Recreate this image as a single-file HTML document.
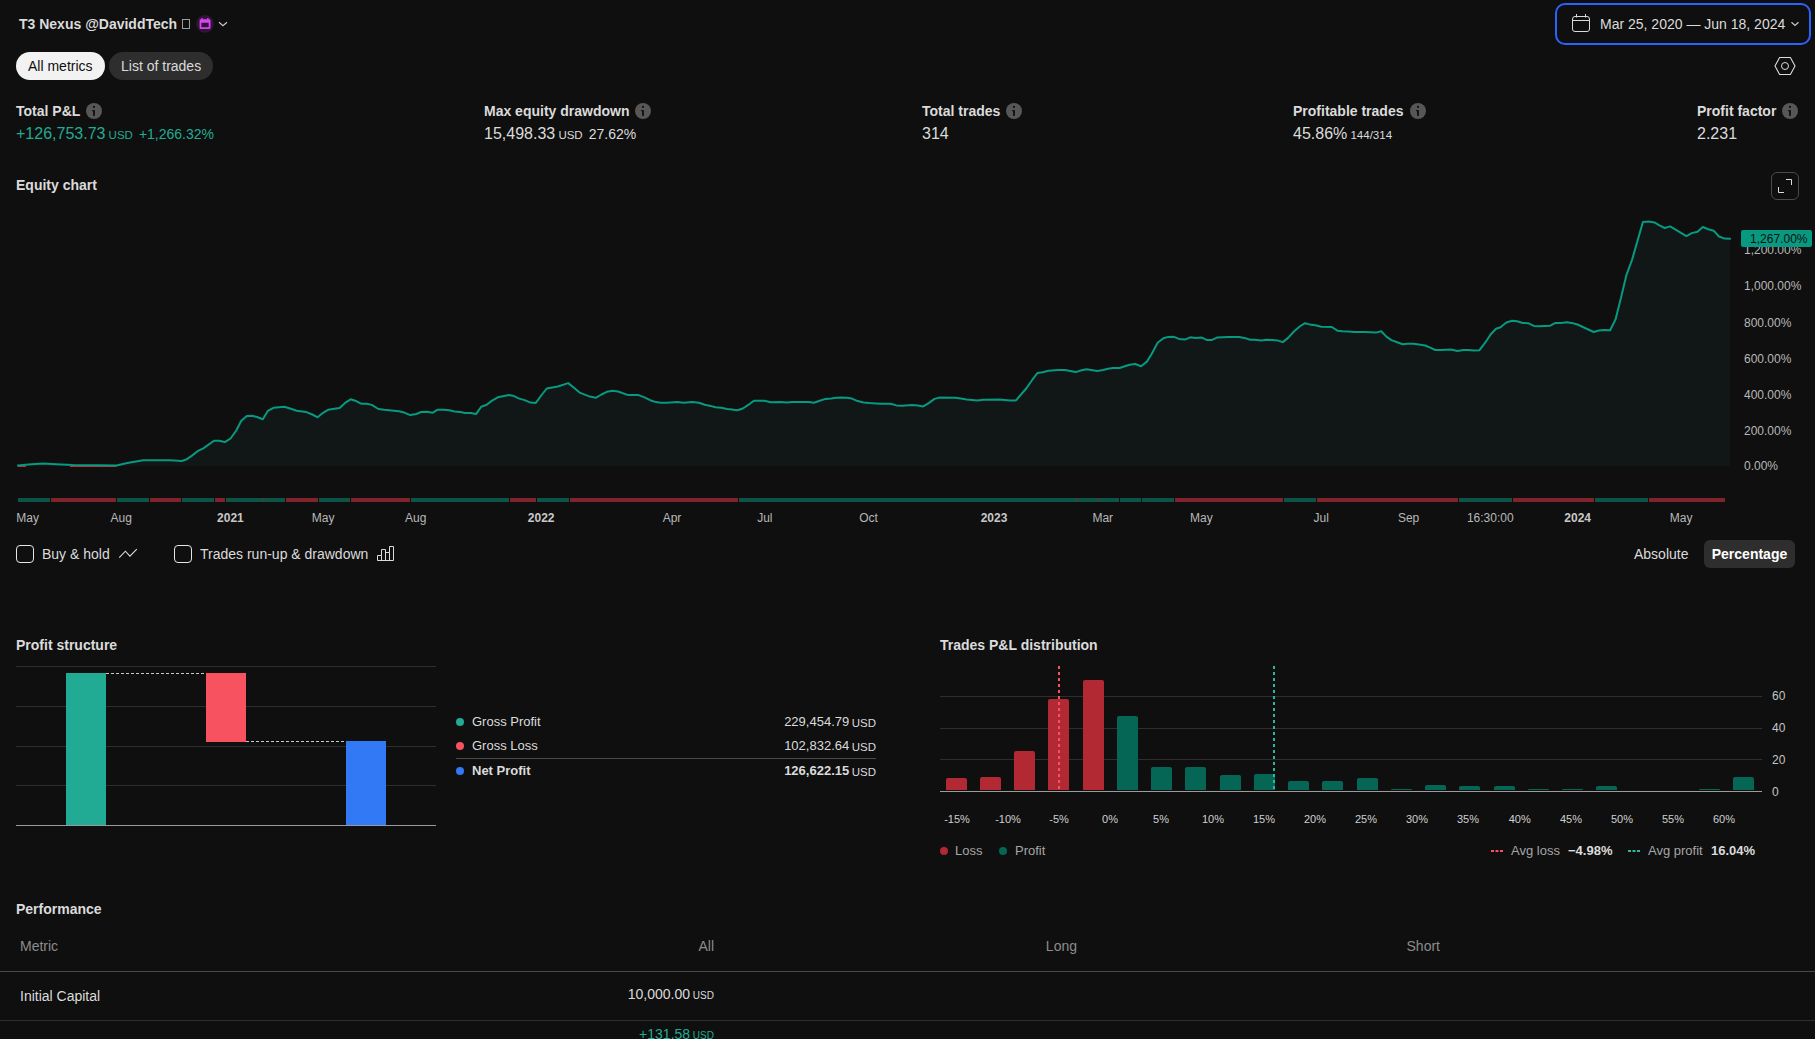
<!DOCTYPE html>
<html lang="en"><head><meta charset="utf-8"><title>Strategy report</title>
<style>
html,body{margin:0;padding:0;background:#0f0f0f;}
body{width:1815px;height:1039px;overflow:hidden;position:relative;font-family:"Liberation Sans",sans-serif;color:#dbdbdb;font-size:14px;}
.abs{position:absolute;white-space:nowrap;}
.b{font-weight:bold;}
.title{left:19px;top:16px;font-size:14px;font-weight:bold;line-height:16px;color:#dbdbdb;}
.pill{height:28px;line-height:28px;border-radius:14px;font-size:14px;top:52px;padding:0 12px;box-sizing:border-box;}
.mlabel{font-size:14px;font-weight:bold;line-height:16px;top:103px;color:#dbdbdb;}
.mval{font-size:16px;line-height:20px;top:124px;color:#dbdbdb;}
.mval small{font-size:11.5px;}
.mval .p{margin-left:6px;}
.mval .p{font-size:14px;}
.info{width:16px;height:16px;position:absolute;top:0px;}
.g{color:#22ab94 !important;}
.sec{font-size:14px;font-weight:bold;line-height:16px;color:#dbdbdb;}
svg text{font-family:"Liberation Sans",sans-serif;}
.ax{font-size:12px;fill:#b8b8b8;}
.ax.b{font-weight:bold;fill:#c8c8c8;}
.ax2{font-size:12px;fill:#c4c4c4;}
.ax3{font-size:11px;fill:#cfcfcf;}
.cb{width:16px;height:16px;border:1px solid #e6e6e6;border-radius:4px;box-sizing:border-box;top:545px;width:18px;height:18px;}
.lg{font-size:13px;line-height:16px;color:#dbdbdb;}
.lg small{font-size:11.5px;margin-left:2.5px;position:relative;top:1px;}
.dot{width:8px;height:8px;border-radius:50%;}
.th{font-size:14px;color:#8c8c8c;line-height:16px;top:938px;}
.td{font-size:14px;color:#dbdbdb;line-height:16px;}
.td small{font-size:10px;}
</style></head><body>

<div class="abs title">T3 Nexus @DaviddTech</div>
<div class="abs" style="left:182px;top:19px;width:6px;height:8px;border:1px solid #9c9c9c;"></div>
<svg class="abs" style="left:195px;top:14px" width="20" height="20" viewBox="0 0 20 20"><circle cx="10" cy="9.900" r="8.900" fill="#2d1732"/><path d="M5.900 5.200H14.200Q15.500 5.200 15.500 6.500V13.700Q15.500 15 14.200 15H5.900Q4.600 15 4.600 13.700V6.500Q4.600 5.200 5.900 5.200Z M6.400 8.800V13.200H13.700V8.800Z" fill="#e040fb" fill-rule="evenodd"/><rect x="6.400" y="4.100" width="1.500" height="1.600" fill="#e040fb"/><rect x="12.100" y="4.100" width="1.500" height="1.600" fill="#e040fb"/></svg>
<svg class="abs" style="left:218px;top:19px" width="10" height="10" viewBox="0 0 10 10"><path d="M1 3.200 L5 6.700 L9 3.200" stroke="#c8c8c8" stroke-width="1.2" fill="none"/></svg>

<div class="abs" style="left:1555px;top:3px;width:256px;height:42px;box-sizing:border-box;border:2px solid #2962ff;border-radius:10px;"></div>
<svg class="abs" style="left:1571px;top:13px" width="20" height="20" viewBox="0 0 20 20"><rect x="1.500" y="3.500" width="17" height="15" rx="2.500" fill="none" stroke="#dbdbdb" stroke-width="1"/><path d="M1.500 7.500H18.500 M5.500 1V4.500 M14.500 1V4.500" stroke="#dbdbdb" stroke-width="1" fill="none"/></svg>
<div class="abs" style="left:1600px;top:16px;font-size:14px;line-height:16px;color:#dbdbdb;">Mar 25, 2020 — Jun 18, 2024</div>
<svg class="abs" style="left:1790px;top:19px" width="10" height="10" viewBox="0 0 10 10"><path d="M1.5 3.2 L5 6.4 L8.5 3.2" stroke="#c8c8c8" stroke-width="1.2" fill="none"/></svg>

<div class="abs pill" style="left:16px;width:89px;background:#f2f2f2;color:#0f0f0f;">All metrics</div>
<div class="abs pill" style="left:109px;width:104px;background:#2e2e2e;color:#dbdbdb;">List of trades</div>
<svg class="abs" style="left:1774px;top:55px" width="22" height="22" viewBox="0 0 22 22"><path d="M5.600 2.500H16.400L21 11L16.400 19.500H5.600L1 11Z" fill="none" stroke="#dbdbdb" stroke-width="1.100"/><circle cx="11" cy="11" r="3.5" fill="none" stroke="#dbdbdb" stroke-width="1"/></svg>

<div class="abs mlabel" style="left:16px;">Total P&amp;L</div><div class="abs" style="left:86px;top:103px"><svg class="info" viewBox="0 0 16 16"><circle cx="8" cy="8" r="8" fill="#575757"/><rect x="7.100" y="7.100" width="1.800" height="5.800" fill="#0f0f0f"/><path d="M5.900 7.100H7.200V8.300H6.300Z" fill="#0f0f0f"/><circle cx="8" cy="3.900" r="1.050" fill="#0f0f0f"/></svg></div>
<div class="abs mval g" style="left:16px;">+126,753.73<small> USD</small><span class="p">+1,266.32%</span></div>
<div class="abs mlabel" style="left:484px;">Max equity drawdown</div><div class="abs" style="left:635px;top:103px"><svg class="info" viewBox="0 0 16 16"><circle cx="8" cy="8" r="8" fill="#575757"/><rect x="7.100" y="7.100" width="1.800" height="5.800" fill="#0f0f0f"/><path d="M5.900 7.100H7.200V8.300H6.300Z" fill="#0f0f0f"/><circle cx="8" cy="3.900" r="1.050" fill="#0f0f0f"/></svg></div>
<div class="abs mval" style="left:484px;">15,498.33<small> USD</small><span class="p">27.62%</span></div>
<div class="abs mlabel" style="left:922px;">Total trades</div><div class="abs" style="left:1006px;top:103px"><svg class="info" viewBox="0 0 16 16"><circle cx="8" cy="8" r="8" fill="#575757"/><rect x="7.100" y="7.100" width="1.800" height="5.800" fill="#0f0f0f"/><path d="M5.900 7.100H7.200V8.300H6.300Z" fill="#0f0f0f"/><circle cx="8" cy="3.900" r="1.050" fill="#0f0f0f"/></svg></div>
<div class="abs mval" style="left:922px;">314</div>
<div class="abs mlabel" style="left:1293px;">Profitable trades</div><div class="abs" style="left:1410px;top:103px"><svg class="info" viewBox="0 0 16 16"><circle cx="8" cy="8" r="8" fill="#575757"/><rect x="7.100" y="7.100" width="1.800" height="5.800" fill="#0f0f0f"/><path d="M5.900 7.100H7.200V8.300H6.300Z" fill="#0f0f0f"/><circle cx="8" cy="3.900" r="1.050" fill="#0f0f0f"/></svg></div>
<div class="abs mval" style="left:1293px;">45.86%<small> 144/314</small></div>
<div class="abs mlabel" style="left:1697px;">Profit factor</div><div class="abs" style="left:1782px;top:103px"><svg class="info" viewBox="0 0 16 16"><circle cx="8" cy="8" r="8" fill="#575757"/><rect x="7.100" y="7.100" width="1.800" height="5.800" fill="#0f0f0f"/><path d="M5.900 7.100H7.200V8.300H6.300Z" fill="#0f0f0f"/><circle cx="8" cy="3.900" r="1.050" fill="#0f0f0f"/></svg></div>
<div class="abs mval" style="left:1697px;">2.231</div>

<div class="abs sec" style="left:16px;top:177px;">Equity chart</div>
<div class="abs" style="left:1771px;top:172px;width:28px;height:28px;box-sizing:border-box;border:1px solid #4a4a4a;border-radius:6px;"></div>
<svg class="abs" style="left:1771px;top:172px" width="28" height="28" viewBox="0 0 28 28"><path d="M15 7.500H20.500V13 M7.500 15V20.500H13" stroke="#dbdbdb" stroke-width="1" fill="none"/></svg>

<svg class="abs" style="left:0;top:0" width="1815" height="540" viewBox="0 0 1815 540">
<path d="M17.9 465.5 L28.1 464.5 L43.0 463.6 L56.0 464.3 L72.7 465.0 L99.0 465.3 L116.5 465.5 L127.3 463.1 L143.0 460.2 L170.0 460.3 L181.8 461.0 L186.8 459.2 L191.7 455.9 L197.5 451.2 L203.3 448.4 L214.0 440.7 L219.0 440.8 L224.8 442.1 L230.6 438.5 L236.4 430.2 L241.3 420.8 L246.8 415.9 L252.0 415.7 L257.0 417.0 L262.8 419.2 L267.8 410.9 L273.5 407.8 L284.3 406.8 L290.9 408.8 L296.6 410.7 L306.5 412.1 L312.3 414.5 L317.6 417.3 L323.0 412.8 L328.0 409.8 L339.6 407.9 L346.2 402.1 L350.7 399.3 L355.3 400.7 L361.0 403.7 L366.9 403.7 L371.8 404.9 L378.4 409.0 L384.2 409.8 L399.0 411.3 L404.9 412.8 L410.3 415.1 L416.4 414.0 L421.0 412.0 L427.2 411.7 L432.5 412.8 L437.6 409.7 L443.7 409.7 L449.5 410.3 L454.5 411.5 L460.2 412.0 L465.2 413.0 L471.0 413.1 L476.0 414.1 L481.2 406.7 L486.7 404.7 L491.7 400.9 L497.8 397.3 L509.0 395.1 L514.0 396.1 L519.3 398.6 L524.7 400.1 L530.5 402.6 L535.8 402.9 L541.2 395.5 L546.7 388.5 L557.8 386.5 L568.2 383.1 L574.3 388.0 L579.6 392.6 L589.9 396.6 L595.7 397.8 L601.5 394.5 L606.8 391.8 L612.6 390.8 L618.0 391.5 L628.3 395.1 L638.7 395.1 L644.5 397.4 L650.2 400.2 L656.0 402.1 L661.0 402.7 L666.8 402.7 L677.5 401.9 L683.3 402.7 L692.4 401.9 L699.0 402.7 L704.8 404.7 L710.6 405.9 L715.5 407.2 L721.3 407.7 L727.1 409.0 L732.0 409.5 L737.4 410.3 L742.8 408.5 L748.6 404.7 L753.9 400.7 L764.3 400.7 L770.9 402.2 L780.8 402.1 L786.6 402.4 L792.4 401.9 L798.2 402.1 L808.9 402.1 L813.9 402.7 L819.7 400.7 L825.5 398.9 L831.2 398.4 L836.2 397.8 L841.2 397.4 L846.9 397.8 L851.9 398.6 L857.7 401.1 L863.5 402.4 L869.3 403.1 L879.9 403.7 L890.7 403.7 L896.4 405.4 L902.2 405.7 L912.1 405.0 L917.9 405.4 L923.2 406.4 L928.7 403.1 L934.5 398.9 L939.4 397.6 L955.1 397.8 L960.9 398.6 L966.7 399.4 L977.4 400.6 L983.2 399.8 L998.9 399.4 L1010.5 400.4 L1016.0 400.4 L1026.2 388.5 L1032.0 380.2 L1037.4 373.0 L1042.7 372.3 L1048.5 370.8 L1058.4 370.0 L1065.0 370.0 L1075.8 372.1 L1081.6 370.3 L1086.5 369.2 L1097.3 371.0 L1103.1 370.0 L1108.0 368.7 L1113.0 368.0 L1119.6 368.0 L1129.5 364.7 L1135.3 364.0 L1141.1 366.2 L1146.9 361.6 L1151.8 353.8 L1157.6 342.7 L1163.4 338.3 L1168.3 336.9 L1174.0 336.8 L1179.0 338.9 L1184.8 339.6 L1190.2 337.3 L1195.5 338.1 L1201.3 337.4 L1206.6 339.9 L1212.1 339.9 L1217.0 337.6 L1227.8 336.9 L1239.3 336.9 L1244.3 337.9 L1250.1 339.8 L1255.0 339.8 L1261.2 340.6 L1266.6 339.8 L1272.4 339.9 L1277.4 340.4 L1282.8 342.1 L1288.1 337.9 L1293.9 331.5 L1299.7 326.5 L1305.0 323.2 L1309.6 324.4 L1315.4 325.2 L1321.2 326.7 L1331.9 327.0 L1337.7 330.8 L1342.6 331.2 L1348.4 331.5 L1354.2 332.1 L1365.0 332.1 L1375.7 332.6 L1381.2 331.3 L1386.4 336.6 L1391.4 340.1 L1397.2 342.2 L1402.6 344.2 L1407.9 343.7 L1413.7 343.7 L1418.7 344.5 L1425.3 345.5 L1430.2 347.7 L1435.2 350.0 L1441.0 350.0 L1450.9 349.5 L1457.5 351.0 L1463.2 350.0 L1468.2 349.9 L1474.0 350.5 L1479.5 350.2 L1484.8 343.2 L1490.6 334.5 L1496.0 328.7 L1500.5 327.2 L1506.3 322.5 L1512.1 320.7 L1517.1 321.2 L1522.8 323.0 L1528.1 323.2 L1533.9 325.9 L1539.4 326.2 L1550.2 325.7 L1555.5 322.9 L1560.9 322.9 L1566.7 322.2 L1571.7 322.9 L1577.5 324.5 L1593.7 332.0 L1599.0 330.5 L1604.0 330.0 L1610.1 330.3 L1615.6 319.2 L1621.0 297.7 L1626.3 275.4 L1632.1 259.6 L1642.9 222.1 L1648.7 221.6 L1654.5 222.4 L1659.4 225.4 L1664.7 228.0 L1670.2 226.4 L1686.4 236.1 L1691.7 233.1 L1697.5 231.7 L1702.8 227.0 L1708.3 229.2 L1713.7 230.7 L1719.0 236.5 L1724.8 238.6 L1730.1 238.8 L1730.1 466 L17.9 466 Z" fill="#101716"/>
<path d="M17.900 466.300 L26 466.300 M70 466.300 L116.500 466.300" stroke="#f23645" stroke-width="1" fill="none"/>
<path d="M17.9 465.5 L28.1 464.5 L43.0 463.6 L56.0 464.3 L72.7 465.0 L99.0 465.3 L116.5 465.5 L127.3 463.1 L143.0 460.2 L170.0 460.3 L181.8 461.0 L186.8 459.2 L191.7 455.9 L197.5 451.2 L203.3 448.4 L214.0 440.7 L219.0 440.8 L224.8 442.1 L230.6 438.5 L236.4 430.2 L241.3 420.8 L246.8 415.9 L252.0 415.7 L257.0 417.0 L262.8 419.2 L267.8 410.9 L273.5 407.8 L284.3 406.8 L290.9 408.8 L296.6 410.7 L306.5 412.1 L312.3 414.5 L317.6 417.3 L323.0 412.8 L328.0 409.8 L339.6 407.9 L346.2 402.1 L350.7 399.3 L355.3 400.7 L361.0 403.7 L366.9 403.7 L371.8 404.9 L378.4 409.0 L384.2 409.8 L399.0 411.3 L404.9 412.8 L410.3 415.1 L416.4 414.0 L421.0 412.0 L427.2 411.7 L432.5 412.8 L437.6 409.7 L443.7 409.7 L449.5 410.3 L454.5 411.5 L460.2 412.0 L465.2 413.0 L471.0 413.1 L476.0 414.1 L481.2 406.7 L486.7 404.7 L491.7 400.9 L497.8 397.3 L509.0 395.1 L514.0 396.1 L519.3 398.6 L524.7 400.1 L530.5 402.6 L535.8 402.9 L541.2 395.5 L546.7 388.5 L557.8 386.5 L568.2 383.1 L574.3 388.0 L579.6 392.6 L589.9 396.6 L595.7 397.8 L601.5 394.5 L606.8 391.8 L612.6 390.8 L618.0 391.5 L628.3 395.1 L638.7 395.1 L644.5 397.4 L650.2 400.2 L656.0 402.1 L661.0 402.7 L666.8 402.7 L677.5 401.9 L683.3 402.7 L692.4 401.9 L699.0 402.7 L704.8 404.7 L710.6 405.9 L715.5 407.2 L721.3 407.7 L727.1 409.0 L732.0 409.5 L737.4 410.3 L742.8 408.5 L748.6 404.7 L753.9 400.7 L764.3 400.7 L770.9 402.2 L780.8 402.1 L786.6 402.4 L792.4 401.9 L798.2 402.1 L808.9 402.1 L813.9 402.7 L819.7 400.7 L825.5 398.9 L831.2 398.4 L836.2 397.8 L841.2 397.4 L846.9 397.8 L851.9 398.6 L857.7 401.1 L863.5 402.4 L869.3 403.1 L879.9 403.7 L890.7 403.7 L896.4 405.4 L902.2 405.7 L912.1 405.0 L917.9 405.4 L923.2 406.4 L928.7 403.1 L934.5 398.9 L939.4 397.6 L955.1 397.8 L960.9 398.6 L966.7 399.4 L977.4 400.6 L983.2 399.8 L998.9 399.4 L1010.5 400.4 L1016.0 400.4 L1026.2 388.5 L1032.0 380.2 L1037.4 373.0 L1042.7 372.3 L1048.5 370.8 L1058.4 370.0 L1065.0 370.0 L1075.8 372.1 L1081.6 370.3 L1086.5 369.2 L1097.3 371.0 L1103.1 370.0 L1108.0 368.7 L1113.0 368.0 L1119.6 368.0 L1129.5 364.7 L1135.3 364.0 L1141.1 366.2 L1146.9 361.6 L1151.8 353.8 L1157.6 342.7 L1163.4 338.3 L1168.3 336.9 L1174.0 336.8 L1179.0 338.9 L1184.8 339.6 L1190.2 337.3 L1195.5 338.1 L1201.3 337.4 L1206.6 339.9 L1212.1 339.9 L1217.0 337.6 L1227.8 336.9 L1239.3 336.9 L1244.3 337.9 L1250.1 339.8 L1255.0 339.8 L1261.2 340.6 L1266.6 339.8 L1272.4 339.9 L1277.4 340.4 L1282.8 342.1 L1288.1 337.9 L1293.9 331.5 L1299.7 326.5 L1305.0 323.2 L1309.6 324.4 L1315.4 325.2 L1321.2 326.7 L1331.9 327.0 L1337.7 330.8 L1342.6 331.2 L1348.4 331.5 L1354.2 332.1 L1365.0 332.1 L1375.7 332.6 L1381.2 331.3 L1386.4 336.6 L1391.4 340.1 L1397.2 342.2 L1402.6 344.2 L1407.9 343.7 L1413.7 343.7 L1418.7 344.5 L1425.3 345.5 L1430.2 347.7 L1435.2 350.0 L1441.0 350.0 L1450.9 349.5 L1457.5 351.0 L1463.2 350.0 L1468.2 349.9 L1474.0 350.5 L1479.5 350.2 L1484.8 343.2 L1490.6 334.5 L1496.0 328.7 L1500.5 327.2 L1506.3 322.5 L1512.1 320.7 L1517.1 321.2 L1522.8 323.0 L1528.1 323.2 L1533.9 325.9 L1539.4 326.2 L1550.2 325.7 L1555.5 322.9 L1560.9 322.9 L1566.7 322.2 L1571.7 322.9 L1577.5 324.5 L1593.7 332.0 L1599.0 330.5 L1604.0 330.0 L1610.1 330.3 L1615.6 319.2 L1621.0 297.7 L1626.3 275.4 L1632.1 259.6 L1642.9 222.1 L1648.7 221.6 L1654.5 222.4 L1659.4 225.4 L1664.7 228.0 L1670.2 226.4 L1686.4 236.1 L1691.7 233.1 L1697.5 231.7 L1702.8 227.0 L1708.3 229.2 L1713.7 230.7 L1719.0 236.5 L1724.8 238.6 L1730.1 238.8" stroke="#089981" stroke-width="2" fill="none" stroke-linejoin="round" stroke-linecap="round"/>
<rect x="18" y="498" width="32" height="4" fill="#0c5448"/><rect x="51" y="498" width="65" height="4" fill="#81232a"/><rect x="117" y="498" width="32" height="4" fill="#0c5448"/><rect x="150" y="498" width="31" height="4" fill="#81232a"/><rect x="182" y="498" width="32" height="4" fill="#0c5448"/><rect x="215" y="498" width="10" height="4" fill="#81232a"/><rect x="226" y="498" width="37" height="4" fill="#0c5448"/><rect x="263" y="498" width="1" height="4" fill="#81232a"/><rect x="264" y="498" width="21" height="4" fill="#0c5448"/><rect x="286" y="498" width="32" height="4" fill="#81232a"/><rect x="319" y="498" width="31" height="4" fill="#0c5448"/><rect x="351" y="498" width="59" height="4" fill="#81232a"/><rect x="411" y="498" width="98" height="4" fill="#0c5448"/><rect x="510" y="498" width="26" height="4" fill="#81232a"/><rect x="537" y="498" width="32" height="4" fill="#0c5448"/><rect x="570" y="498" width="168" height="4" fill="#81232a"/><rect x="739" y="498" width="337" height="4" fill="#0c5448"/><rect x="1076" y="498" width="1" height="4" fill="#81232a"/><rect x="1077" y="498" width="21" height="4" fill="#0c5448"/><rect x="1098" y="498" width="1" height="4" fill="#81232a"/><rect x="1099" y="498" width="20" height="4" fill="#0c5448"/><rect x="1120" y="498" width="21" height="4" fill="#0c5448"/><rect x="1142" y="498" width="32" height="4" fill="#0c5448"/><rect x="1175" y="498" width="108" height="4" fill="#81232a"/><rect x="1284" y="498" width="32" height="4" fill="#0c5448"/><rect x="1317" y="498" width="141" height="4" fill="#81232a"/><rect x="1459" y="498" width="53" height="4" fill="#0c5448"/><rect x="1513" y="498" width="81" height="4" fill="#81232a"/><rect x="1595" y="498" width="53" height="4" fill="#0c5448"/><rect x="1649" y="498" width="76" height="4" fill="#81232a"/>
<text x="27.7" y="522" text-anchor="middle" class="ax">May</text><text x="121.2" y="522" text-anchor="middle" class="ax">Aug</text><text x="230.4" y="522" text-anchor="middle" class="ax b">2021</text><text x="323.2" y="522" text-anchor="middle" class="ax">May</text><text x="415.7" y="522" text-anchor="middle" class="ax">Aug</text><text x="541.2" y="522" text-anchor="middle" class="ax b">2022</text><text x="672" y="522" text-anchor="middle" class="ax">Apr</text><text x="764.8" y="522" text-anchor="middle" class="ax">Jul</text><text x="868.6" y="522" text-anchor="middle" class="ax">Oct</text><text x="994" y="522" text-anchor="middle" class="ax b">2023</text><text x="1102.8" y="522" text-anchor="middle" class="ax">Mar</text><text x="1201.4" y="522" text-anchor="middle" class="ax">May</text><text x="1321.2" y="522" text-anchor="middle" class="ax">Jul</text><text x="1408.6" y="522" text-anchor="middle" class="ax">Sep</text><text x="1490.3" y="522" text-anchor="middle" class="ax">16:30:00</text><text x="1577.7" y="522" text-anchor="middle" class="ax b">2024</text><text x="1681.2" y="522" text-anchor="middle" class="ax">May</text>
<text x="1744" y="254" class="ax">1,200.00%</text><text x="1744" y="290" class="ax">1,000.00%</text><text x="1744" y="327" class="ax">800.00%</text><text x="1744" y="363" class="ax">600.00%</text><text x="1744" y="399" class="ax">400.00%</text><text x="1744" y="435" class="ax">200.00%</text><text x="1744" y="470" class="ax">0.00%</text>
<rect x="1741" y="230" width="71" height="17" rx="2" fill="#089981"/>
<text x="1807.500" y="242.500" text-anchor="end" style="font-size:12px;fill:#0f0f0f;">1,267.00%</text>
</svg>

<div class="abs cb" style="left:16px;"></div>
<div class="abs" style="left:42px;top:546px;font-size:14px;line-height:16px;">Buy &amp; hold</div>
<svg class="abs" style="left:118px;top:545px" width="20" height="18" viewBox="0 0 20 18"><path d="M1.200 12.700 L7.400 6.200 L11.900 11.200 L18.800 4.200" stroke="#dbdbdb" stroke-width="1.1" fill="none"/></svg>
<div class="abs cb" style="left:174px;"></div>
<div class="abs" style="left:200px;top:546px;font-size:14px;line-height:16px;">Trades run-up &amp; drawdown</div>
<svg class="abs" style="left:376px;top:545px" width="20" height="18" viewBox="0 0 20 18"><path d="M1.500 15.500V10.500H5.500V15.500 M5.500 10.500V4.500H9.500V15.500 M9.500 7.500H13.500V15.500 M13.500 7.500V1.500H17.500V15.500H1.500" stroke="#dbdbdb" stroke-width="1" fill="none"/></svg>
<div class="abs" style="left:1634px;top:546px;font-size:14px;line-height:16px;">Absolute</div>
<div class="abs b" style="left:1704px;top:540px;width:91px;height:28px;line-height:28px;border-radius:6px;background:#2e2e2e;color:#fff;text-align:center;font-size:14px;">Percentage</div>

<div class="abs sec" style="left:16px;top:637px;">Profit structure</div>
<svg class="abs" style="left:0;top:600px" width="900" height="280" viewBox="0 600 900 280">
<path d="M16 666.500H436 M16 706.500H436 M16 746.500H436 M16 785.500H436" stroke="#2e2e2e" stroke-width="1"/>
<rect x="66" y="673" width="40" height="152" fill="#22ab94"/>
<rect x="206" y="673" width="40" height="69" fill="#f7525f"/>
<rect x="346" y="741" width="40" height="84" fill="#3179f5"/>
<path d="M106 673.500H206 M246 741.500H346" stroke="#c8c8c8" stroke-width="1" stroke-dasharray="3 2"/>
<path d="M16 825.500H436" stroke="#9a9a9a" stroke-width="1"/>
<path d="M456 758.500H876" stroke="#4a4a4a" stroke-width="1"/>
</svg>
<div class="abs dot" style="left:456px;top:718px;background:#22ab94"></div>
<div class="abs lg" style="left:472px;top:714px;">Gross Profit</div>
<div class="abs lg" style="right:939px;top:714px;">229,454.79<small>USD</small></div>
<div class="abs dot" style="left:456px;top:742px;background:#f7525f"></div>
<div class="abs lg" style="left:472px;top:738px;">Gross Loss</div>
<div class="abs lg" style="right:939px;top:738px;">102,832.64<small>USD</small></div>
<div class="abs dot" style="left:456px;top:767px;background:#3179f5"></div>
<div class="abs lg b" style="left:472px;top:763px;">Net Profit</div>
<div class="abs lg" style="right:939px;top:763px;"><span class="b">126,622.15</span><small>USD</small></div>

<div class="abs sec" style="left:940px;top:637px;">Trades P&amp;L distribution</div>
<svg class="abs" style="left:900px;top:600px" width="915" height="280" viewBox="900 600 915 280">
<path d="M940 696.500H1762 M940 728.500H1762 M940 759.500H1762" stroke="#2e2e2e" stroke-width="1"/>
<path d="M946 790 V780 Q946 778 948 778 H965 Q967 778 967 780 V790 Z" fill="#b22833"/><path d="M980 790 V779 Q980 777 982 777 H999 Q1001 777 1001 779 V790 Z" fill="#b22833"/><path d="M1014 790 V753 Q1014 751 1016 751 H1033 Q1035 751 1035 753 V790 Z" fill="#b22833"/><path d="M1048 790 V701 Q1048 699 1050 699 H1067 Q1069 699 1069 701 V790 Z" fill="#b22833"/><path d="M1083 790 V682 Q1083 680 1085 680 H1102 Q1104 680 1104 682 V790 Z" fill="#b22833"/><path d="M1117 790 V718 Q1117 716 1119 716 H1136 Q1138 716 1138 718 V790 Z" fill="#056656"/><path d="M1151 790 V769 Q1151 767 1153 767 H1170 Q1172 767 1172 769 V790 Z" fill="#056656"/><path d="M1185 790 V769 Q1185 767 1187 767 H1204 Q1206 767 1206 769 V790 Z" fill="#056656"/><path d="M1220 790 V777 Q1220 775 1222 775 H1239 Q1241 775 1241 777 V790 Z" fill="#056656"/><path d="M1254 790 V776 Q1254 774 1256 774 H1273 Q1275 774 1275 776 V790 Z" fill="#056656"/><path d="M1288 790 V783 Q1288 781 1290 781 H1307 Q1309 781 1309 783 V790 Z" fill="#056656"/><path d="M1322 790 V783 Q1322 781 1324 781 H1341 Q1343 781 1343 783 V790 Z" fill="#056656"/><path d="M1357 790 V780 Q1357 778 1359 778 H1376 Q1378 778 1378 780 V790 Z" fill="#056656"/><path d="M1391 790 V790 Q1391 789 1392 789 H1411 Q1412 789 1412 790 V790 Z" fill="#056656"/><path d="M1425 790 V787 Q1425 785 1427 785 H1444 Q1446 785 1446 787 V790 Z" fill="#056656"/><path d="M1459 790 V788 Q1459 786 1461 786 H1478 Q1480 786 1480 788 V790 Z" fill="#056656"/><path d="M1494 790 V788 Q1494 786 1496 786 H1513 Q1515 786 1515 788 V790 Z" fill="#056656"/><path d="M1528 790 V790 Q1528 789 1529 789 H1548 Q1549 789 1549 790 V790 Z" fill="#056656"/><path d="M1562 790 V790 Q1562 789 1563 789 H1582 Q1583 789 1583 790 V790 Z" fill="#056656"/><path d="M1596 790 V788 Q1596 786 1598 786 H1615 Q1617 786 1617 788 V790 Z" fill="#056656"/><path d="M1699 790 V790 Q1699 789 1700 789 H1719 Q1720 789 1720 790 V790 Z" fill="#056656"/><path d="M1733 790 V779 Q1733 777 1735 777 H1752 Q1754 777 1754 779 V790 Z" fill="#056656"/>
<path d="M940 791.500H1762" stroke="#9c9c9c" stroke-width="1.200"/>
<path d="M1059 666V790" stroke="#f7525f" stroke-width="2" stroke-dasharray="3 3"/>
<path d="M1274 666V790" stroke="#2bb89e" stroke-width="2" stroke-dasharray="3 3"/>
<text x="957" y="823" text-anchor="middle" class="ax3">-15%</text><text x="1008" y="823" text-anchor="middle" class="ax3">-10%</text><text x="1059" y="823" text-anchor="middle" class="ax3">-5%</text><text x="1110" y="823" text-anchor="middle" class="ax3">0%</text><text x="1161" y="823" text-anchor="middle" class="ax3">5%</text><text x="1213" y="823" text-anchor="middle" class="ax3">10%</text><text x="1264" y="823" text-anchor="middle" class="ax3">15%</text><text x="1315" y="823" text-anchor="middle" class="ax3">20%</text><text x="1366" y="823" text-anchor="middle" class="ax3">25%</text><text x="1417" y="823" text-anchor="middle" class="ax3">30%</text><text x="1468" y="823" text-anchor="middle" class="ax3">35%</text><text x="1519.7" y="823" text-anchor="middle" class="ax3">40%</text><text x="1571" y="823" text-anchor="middle" class="ax3">45%</text><text x="1622" y="823" text-anchor="middle" class="ax3">50%</text><text x="1673" y="823" text-anchor="middle" class="ax3">55%</text><text x="1724" y="823" text-anchor="middle" class="ax3">60%</text>
<text x="1772" y="700" class="ax2">60</text><text x="1772" y="732" class="ax2">40</text><text x="1772" y="764" class="ax2">20</text><text x="1772" y="796" class="ax2">0</text>
<path d="M1491 851H1503" stroke="#f7525f" stroke-width="2" stroke-dasharray="3 1.500"/>
<path d="M1628 851H1640" stroke="#2bb89e" stroke-width="2" stroke-dasharray="3 1.500"/>
</svg>
<div class="abs dot" style="left:940px;top:847px;background:#b22833"></div>
<div class="abs lg" style="left:955px;top:843px;color:#a6a6a6;">Loss</div>
<div class="abs dot" style="left:999px;top:847px;background:#056656"></div>
<div class="abs lg" style="left:1015px;top:843px;color:#a6a6a6;">Profit</div>
<div class="abs lg" style="left:1511px;top:843px;color:#a6a6a6;">Avg loss</div>
<div class="abs lg b" style="left:1568px;top:843px;">−4.98%</div>
<div class="abs lg" style="left:1648px;top:843px;color:#a6a6a6;">Avg profit</div>
<div class="abs lg b" style="left:1711px;top:843px;">16.04%</div>

<div class="abs sec" style="left:16px;top:901px;">Performance</div>
<div class="abs th" style="left:20px;">Metric</div>
<div class="abs th" style="right:1101px;">All</div>
<div class="abs th" style="right:738px;">Long</div>
<div class="abs th" style="right:375px;">Short</div>
<div class="abs" style="left:0;top:971px;width:1815px;height:1px;background:#4a4a4a;"></div>
<div class="abs td" style="left:20px;top:988px;">Initial Capital</div>
<div class="abs td" style="right:1101px;top:986px;">10,000.00<small> USD</small></div>
<div class="abs" style="left:0;top:1020px;width:1815px;height:1px;background:#2e2e2e;"></div>
<div class="abs td g" style="right:1101px;top:1026px;">+131.58<small> USD</small></div>
</body></html>
